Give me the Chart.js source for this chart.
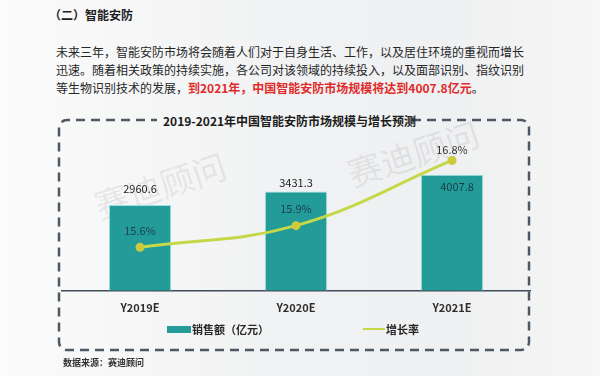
<!DOCTYPE html>
<html>
<head>
<meta charset="utf-8">
<script src="https://cdn.jsdelivr.net/npm/chart.js@4"></script>
<style>
    html, body { margin: 0; padding: 0; }
    body { font-family: "Noto Sans CJK SC", "Noto Sans", sans-serif; }
    #page {
        position: relative;
        width: 600px;
        height: 376px;
        overflow: hidden;
        background: linear-gradient(90deg, #fbfbfb 0%, #f1f2f3 45%, #eff0f1 75%, #f6f6f6 100%);
    }
    .abs { position: absolute; white-space: nowrap; }
    .head { left: 49px; top: 6px; font-size: 12px; font-weight: bold; color: #1c1c1c; line-height: 18px; }
    .para { left: 56px; font-size: 12px; color: #262626; line-height: 18px; }
    .red { color: #e02b2b; font-weight: bold; }
    .ctitle { left: 163px; top: 112px; font-size: 12px; font-weight: bold; color: #1c1c1c; line-height: 18px; }
    .source { left: 63px; top: 357px; font-size: 9px; font-weight: bold; color: #333; line-height: 12px; }
    .mark { font-size: 34px; color: rgba(110, 110, 110, 0.12); transform: rotate(-18deg); font-family: "Noto Sans CJK SC"; }
    #legend { left: 0; top: 321px; width: 600px; height: 16px; }
    .lg-item { position: absolute; top: 0; height: 16px; font-size: 11px; font-weight: bold; color: #262626; line-height: 16px; }
    .lg-sw { position: absolute; }
    canvas { position: absolute; left: 0; top: 0; }
</style>
</head>
<body>
<div id="page">
    <div class="abs head">（二）智能安防</div>
    <div class="abs para" style="top:43px">未来三年，智能安防市场将会随着人们对于自身生活、工作，以及居住环境的重视而增长</div>
    <div class="abs para" style="top:61px">迅速。随着相关政策的持续实施，各公司对该领域的持续投入，以及面部识别、指纹识别</div>
    <div class="abs para" style="top:79px">等生物识别技术的发展，<span class="red">到2021年，中国智能安防市场规模将达到4007.8亿元</span>。</div>

    <div class="abs mark" style="left:92px;top:160px">赛迪顾问</div>
    <div class="abs mark" style="left:345px;top:128px">赛迪顾问</div>

    <svg class="abs" style="left:0;top:0" width="600" height="376">
        <path d="M 412 120 H 521 A 8 8 0 0 1 529 128 V 342 A 8 8 0 0 1 521 350 H 67 A 8 8 0 0 1 59 342 V 128 A 8 8 0 0 1 67 120 H 157"
              fill="none" stroke="#4d5864" stroke-width="2.5" stroke-dasharray="9 6"/>
    </svg>
    <div class="abs ctitle">2019-2021年中国智能安防市场规模与增长预测</div>

    <canvas id="chart" width="600" height="376"></canvas>

    <div class="abs" id="legend"></div>
    <div class="abs source">数据来源：赛迪顾问</div>
</div>

<script>
// chart data
const categories = ['Y2019E', 'Y2020E', 'Y2021E'];
const salesValues = [2960.6, 3431.3, 4007.8];
const growthRates = [15.6, 15.9, 16.8];
const seriesNames = ['销售额（亿元）', '增长率'];

const barColor = '#229b99';
const lineColor = '#c6d84a';

// label offsets from the mark (px)
const barLabelDy = [-16, -9, 12];
const rateLabelDy = [-17, -17, -11];

const valueLabels = {
    id: 'valueLabels',
    afterDatasetsDraw(chart) {
        const ctx = chart.ctx;
        const bars = chart.getDatasetMeta(0).data;
        const points = chart.getDatasetMeta(1).data;
        ctx.save();
        ctx.textAlign = 'center';
        ctx.textBaseline = 'middle';
        ctx.font = '11px "Noto Sans CJK SC", sans-serif';

        bars.forEach((bar, i) => {
            ctx.fillStyle = i === 2 ? '#173f44' : '#222';
            ctx.fillText(salesValues[i].toFixed(1), bar.x + (i === 2 ? 5 : 0), bar.y + barLabelDy[i]);
        });

        points.forEach((pt, i) => {
            ctx.fillStyle = i === 2 ? '#333' : '#1f4250';
            ctx.fillText(growthRates[i].toFixed(1) + '%', pt.x, pt.y + rateLabelDy[i]);
        });
        ctx.restore();
    }
};

const chart = new Chart(document.getElementById('chart'), {
    type: 'bar',
    data: {
        labels: categories,
        datasets: [{
            type: 'bar',
            label: seriesNames[0],
            data: salesValues,
            yAxisID: 'y',
            backgroundColor: barColor,
            borderColor: '#9fe2e4',
            borderWidth: 1,
            barPercentage: 0.4,
            categoryPercentage: 1,
            order: 1
        }, {
            type: 'line',
            label: seriesNames[1],
            data: growthRates,
            yAxisID: 'y1',
            borderColor: lineColor,
            borderWidth: 3,
            tension: 0.4,
            pointRadius: 4.5,
            pointBackgroundColor: '#cccb3b',
            pointBorderColor: '#cccb3b',
            pointBorderWidth: 0,
            order: 0
        }]
    },
    options: {
        responsive: false,
        animation: false,
        layout: {
            padding: { left: 62, right: 70, top: 146, bottom: 52 }
        },
        scales: {
            x: {
                grid: { display: false, drawTicks: false },
                border: { display: true, color: '#3f4d5a', width: 1.5 },
                ticks: {
                    padding: 10,
                    color: '#2e2e2e',
                    font: { family: '"Noto Sans CJK SC", sans-serif', size: 11, weight: 'bold' }
                }
            },
            y: { display: false, min: 0, max: 5000 },
            y1: { display: false, min: 15, max: 17 }
        },
        plugins: {
            legend: { display: false },
            tooltip: { enabled: false }
        }
    },
    plugins: [valueLabels]
});

// legend built from the datasets
const legendBox = document.getElementById('legend');
const legendX = [167, 363];
chart.data.datasets.forEach((ds, i) => {
    const item = document.createElement('div');
    item.className = 'lg-item';
    item.style.left = legendX[i] + 'px';
    const sw = document.createElement('span');
    sw.className = 'lg-sw';
    if (ds.type === 'bar') {
        sw.style.cssText = 'left:0;top:5px;width:24px;height:7px;background:' + ds.backgroundColor;
    } else {
        sw.style.cssText = 'left:0;top:7px;width:22px;height:2px;background:' + ds.borderColor;
    }
    item.appendChild(sw);
    const txt = document.createElement('span');
    txt.style.marginLeft = (ds.type === 'bar' ? 25 : 23) + 'px';
    txt.textContent = ds.label;
    item.appendChild(txt);
    legendBox.appendChild(item);
});
</script>
</body>
</html>
